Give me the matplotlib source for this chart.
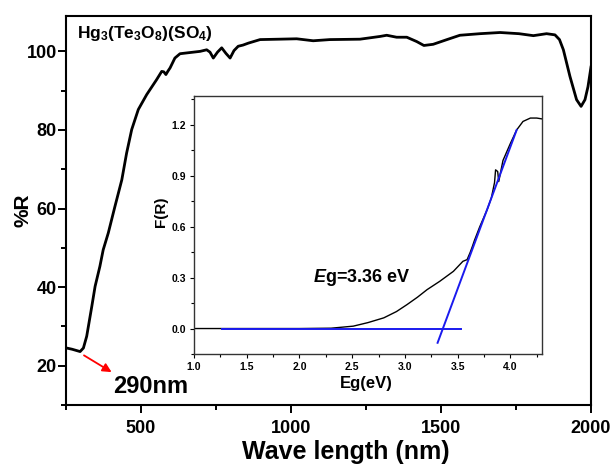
import matplotlib
matplotlib.use('Agg')
import matplotlib.pyplot as plt
from matplotlib.ticker import MultipleLocator

plt.rcParams['font.family'] = 'Liberation Sans'
plt.rcParams['font.weight'] = 'bold'
plt.rcParams['mathtext.fontset'] = 'custom'
plt.rcParams['mathtext.rm'] = 'Liberation Sans:bold'
plt.rcParams['mathtext.it'] = 'Liberation Sans:bold:italic'
plt.rcParams['mathtext.bf'] = 'Liberation Sans:bold'

# reflectance spectrum (main panel)
wavelength = [252, 270, 297, 308, 319, 336, 347, 363, 374, 391, 413, 436, 452, 469,
              491, 519, 552, 569, 576, 583, 590, 597, 613, 630, 652, 697, 719, 730,
              741, 755, 769, 783, 797, 810, 824, 840, 858, 897, 960, 1019, 1074,
              1130, 1230, 1297, 1319, 1352, 1386, 1419, 1443, 1474, 1520, 1563,
              1630, 1697, 1760, 1808, 1852, 1880, 1895, 1908, 1930, 1952, 1967,
              1980, 1990, 1997, 2000]
reflectance = [24.5, 24.2, 23.6, 24.5, 27.5, 35.1, 40.2, 45.3, 49.5, 53.8, 60.5, 67.3,
               74.1, 80.1, 85.2, 89.0, 92.8, 94.9, 94.8, 94.1, 95.0, 95.8, 98.3, 99.4,
               99.6, 100.0, 100.4, 99.8, 98.3, 99.8, 100.9, 99.5, 98.3, 100.2, 101.3,
               101.6, 102.1, 103.0, 103.1, 103.2, 102.7, 103.0, 103.1, 103.8, 104.1,
               103.6, 103.6, 102.5, 101.5, 101.8, 103.0, 104.1, 104.5, 104.8, 104.5,
               104.0, 104.5, 104.2, 103.0, 100.4, 93.6, 87.7, 86.0, 87.7, 91.0, 94.5,
               96.0]

# Kubelka-Munk function (inset)
energy = [1.0, 1.5, 2.0, 2.3, 2.51, 2.65, 2.80, 2.92, 3.02, 3.12, 3.21, 3.33, 3.46,
          3.55, 3.59, 3.62, 3.64, 3.66, 3.71, 3.78, 3.82, 3.85, 3.86, 3.88, 3.89,
          3.93, 4.00, 4.06, 4.12, 4.19, 4.25, 4.30]
f_r = [0.0, 0.0, 0.0, 0.002, 0.014, 0.035, 0.063, 0.100, 0.141, 0.185, 0.229,
       0.278, 0.337, 0.396, 0.406, 0.450, 0.484, 0.52, 0.60, 0.70, 0.77, 0.86,
       0.935, 0.925, 0.866, 0.99, 1.09, 1.17, 1.22, 1.24, 1.24, 1.235]

base_x = [1.27, 3.53]
base_y = [0.0, 0.0]
tangent_x = [3.31, 4.06]
tangent_y = [-0.084, 1.17]

fig = plt.figure(figsize=(6.14, 4.68), dpi=100)
ax = fig.add_axes([0.1075, 0.1346, 0.855, 0.8312])
ax.plot(wavelength, reflectance, color='black', lw=2.0)
ax.set_xlim(250, 2000)
ax.set_ylim(10, 109)
ax.xaxis.set_major_locator(MultipleLocator(500))
ax.xaxis.set_minor_locator(MultipleLocator(250))
ax.yaxis.set_major_locator(MultipleLocator(20))
ax.yaxis.set_minor_locator(MultipleLocator(10))
ax.tick_params(which='both', direction='out', top=False, right=False, width=1.4)
ax.tick_params(which='major', length=5.5, labelsize=13)
ax.tick_params(axis='y', which='major', pad=1)
ax.tick_params(axis='x', which='major', pad=5)
ax.tick_params(which='minor', length=3.5)
for s in ax.spines.values():
    s.set_linewidth(1.5)
ax.set_xlabel('Wave length (nm)', fontsize=18, fontweight='bold')
ax.xaxis.set_label_coords(0.533, -0.09)
ax.set_ylabel('%R', fontsize=15, fontweight='bold')
ax.yaxis.set_label_coords(-0.064, 0.5)
ax.text(0.02, 0.955, r'Hg$_3$(Te$_3$O$_8$)(SO$_4$)', transform=ax.transAxes,
        fontsize=12.5, fontweight='bold', va='center', ha='left')
ax.annotate('', xy=(410, 18.0), xytext=(302, 23.0),
            arrowprops=dict(arrowstyle='-|>', color='red', lw=1.3, mutation_scale=13))
ax.text(407, 14.7, '290nm', fontsize=17, fontweight='bold', va='center', ha='left')

ins = fig.add_axes([0.316, 0.2436, 0.5667, 0.5513])
ins.plot(energy, f_r, color='black', lw=1.0)
ins.plot(base_x, base_y, color='#1a1aee', lw=1.4)
ins.plot(tangent_x, tangent_y, color='#1a1aee', lw=1.4)
ins.set_xlim(1.0, 4.3)
ins.set_ylim(-0.15, 1.37)
ins.xaxis.set_major_locator(MultipleLocator(0.5))
ins.xaxis.set_minor_locator(MultipleLocator(0.25))
ins.yaxis.set_major_locator(MultipleLocator(0.3))
ins.yaxis.set_minor_locator(MultipleLocator(0.15))
ins.tick_params(which='both', direction='out', top=False, right=False, width=0.8)
ins.tick_params(which='major', length=3, labelsize=7.5, pad=3)
ins.tick_params(which='minor', length=2)
for s in ins.spines.values():
    s.set_linewidth(1.0)
    s.set_color('#333333')
ins.set_xlabel('Eg(eV)', fontsize=12, fontweight='bold')
ins.xaxis.set_label_coords(0.494, -0.087)
ins.set_ylabel('F(R)', fontsize=11, fontweight='bold')
ins.yaxis.set_label_coords(-0.075, 0.55)
ins.text(2.13, 0.30, r'$\mathit{E}$g=3.36 eV', fontsize=13, fontweight='bold',
         va='center', ha='left')

fig.savefig('out.png', dpi=100)
